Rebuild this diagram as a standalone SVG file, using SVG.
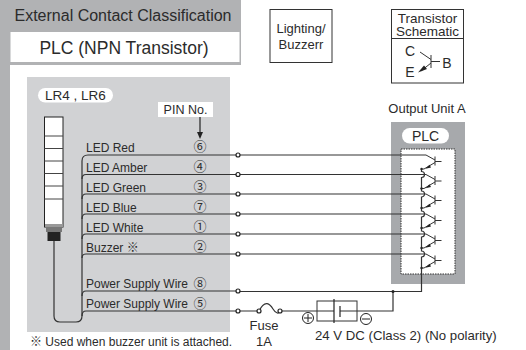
<svg xmlns="http://www.w3.org/2000/svg" width="526" height="350" viewBox="0 0 526 350">
<style>
text{font-family:"Liberation Sans","Noto Sans CJK JP",sans-serif;fill:#2b2b2b}
.l{font-size:12px}
.n{font-size:13px;text-anchor:middle}
.m{text-anchor:middle}
.w{fill:none;stroke:#333;stroke-width:1.2}
.o{fill:#fff;stroke:#222;stroke-width:1.2}
.b{fill:none;stroke:#333;stroke-width:1}
.d{fill:#222}
</style>
<defs>
<g id="tr">
<path class="b" d="M-2 -6.500L7 -1.500M7 -5V4M7 0H13.500M7 1L-4 7.500H-6.500"/>
<path class="d" d="M-2.500 7.200L1.500 3.200L3 6Z"/>
<circle class="d" cx="-6.500" cy="7.500" r="1.200"/>
</g>
</defs>
<g id="header">
<rect x="0" y="0" width="241" height="65" fill="#b1b2b4"/>
<rect x="0" y="0" width="10" height="350" fill="#b1b2b4"/>
<rect x="10.500" y="32" width="229" height="30" fill="#fff"/>
<text x="123" y="20.500" class="m" font-size="16">External Contact Classification</text>
<text x="124" y="53.500" class="m" font-size="17.500">PLC (NPN Transistor)</text>
</g>
<g id="panel-lr">
<rect x="27" y="77" width="203" height="255" fill="#d1d2d4"/>
<rect x="38" y="88" width="75" height="14.500" rx="7.200" fill="#fff"/>
<text x="75.500" y="100" class="m" font-size="13.500">LR4 , LR6</text>
<rect x="158" y="102" width="55" height="15" fill="#fff"/>
<text x="185.500" y="113.500" class="m" font-size="12.500">PIN No.</text>
<path d="M200 117V134" stroke="#222" stroke-width="1.200"/>
<path class="d" d="M197 132H203L200 139Z"/>
</g>
<g id="lamp">
<rect x="44.500" y="117" width="18.500" height="110" fill="#fff" stroke="#222" stroke-width="1"/>
<path d="M44.500 136H63M44.500 148.500H63M44.500 161H63M44.500 173.500H63M44.500 186H63M44.500 199H63" stroke="#444" stroke-width="1"/>
<rect x="45" y="224" width="18" height="3" fill="#999"/>
<rect x="46" y="227" width="16" height="5" fill="#777"/>
<rect x="47.500" y="232" width="13" height="9" fill="#222"/>
</g>
<g id="panel-plc">
<rect x="391" y="122" width="74" height="162" fill="#a7a9ac"/>
<rect x="402" y="128" width="47" height="15.500" rx="7.700" fill="#fff"/>
<text x="425.500" y="141" class="m" font-size="14">PLC</text>
<rect x="401" y="149" width="54" height="125" fill="#fff" stroke="#333" stroke-width="1" stroke-dasharray="1.500 1"/>
<text x="427" y="113" class="m" font-size="13">Output Unit A</text>
</g>
<g id="connectors">
<path class="w" d="M238 155H88Q82 155 82 161V316Q82 322 76 322H60Q54 322 54 316V241"/>
<path class="w" d="M238 174.500H86Q82 174.500 82 179"/>
<path class="w" d="M238 194H86Q82 194 82 199"/>
<path class="w" d="M238 214H86Q82 214 82 219"/>
<path class="w" d="M238 234H86Q82 234 82 239"/>
<path class="w" d="M238 254H86Q82 254 82 258"/>
<path class="w" d="M238 291H86Q82 291 82 296"/>
<path class="w" d="M238 311H86Q82 311 82 316"/>
<path class="w" d="M238 155H426M238 174.500H426M238 194H426M238 214H426M238 234H426M238 254H426"/>
<path class="w" d="M238 291.500H421.500V257A3 3 0 0 0 421.500 251V237A3 3 0 0 0 421.500 231V217A3 3 0 0 0 421.500 211V197A3 3 0 0 0 421.500 191V177.500A3 3 0 0 0 421.500 171.500V169M393 291.500V311H340M334 311H280M238 311H259"/>
<path class="w" d="M259 311C265 299 270 304 273 309C276 314 279 314 280 311"/>
<circle class="o" cx="238" cy="155" r="2"/>
<circle class="o" cx="238" cy="174.500" r="2"/>
<circle class="o" cx="238" cy="194" r="2"/>
<circle class="o" cx="238" cy="214" r="2"/>
<circle class="o" cx="238" cy="234" r="2"/>
<circle class="o" cx="238" cy="254" r="2"/>
<circle class="o" cx="238" cy="291" r="2"/>
<circle class="o" cx="238" cy="311" r="2"/>
<circle class="o" cx="259" cy="311" r="2"/>
<circle class="o" cx="280" cy="311" r="2"/>
<circle class="d" cx="393" cy="291.500" r="1.500"/>
</g>
<g id="labels">
<text x="86" y="152" class="l">LED Red</text><text x="200" y="151" class="n">⑥</text>
<text x="86" y="172" class="l">LED Amber</text><text x="200" y="171" class="n">④</text>
<text x="86" y="192" class="l">LED Green</text><text x="200" y="191" class="n">③</text>
<text x="86" y="212" class="l">LED Blue</text><text x="200" y="211" class="n">⑦</text>
<text x="86" y="232" class="l">LED White</text><text x="200" y="231" class="n">①</text>
<text x="86" y="252" class="l">Buzzer ※</text><text x="200" y="251" class="n">②</text>
<text x="86" y="288" class="l">Power Supply Wire</text><text x="200" y="288" class="n">⑧</text>
<text x="86" y="308" class="l">Power Supply Wire</text><text x="200" y="308" class="n">⑤</text>
<text x="30" y="346" font-size="12">※ Used when buzzer unit is attached.</text>
</g>
<g id="transistors">
<use href="#tr" x="428" y="161.500"/>
<use href="#tr" x="428" y="181"/>
<use href="#tr" x="428" y="200.500"/>
<use href="#tr" x="428" y="220.500"/>
<use href="#tr" x="428" y="240.500"/>
<use href="#tr" x="428" y="260.500"/>
</g>
<g id="fuse">
<text x="264" y="330" class="m" font-size="13">Fuse</text>
<text x="264" y="346" class="m" font-size="13">1A</text>
</g>
<g id="battery">
<rect x="317" y="301" width="40" height="20" fill="none" stroke="#333" stroke-width="1"/>
<path d="M334 299V323" stroke="#222" stroke-width="1.200"/>
<path d="M340 306V317" stroke="#222" stroke-width="1.200"/>
<circle cx="308" cy="318" r="5.500" fill="#fff" stroke="#222"/>
<path d="M304 318H312M308 314V322" stroke="#222"/>
<circle cx="366" cy="319" r="5.500" fill="#fff" stroke="#222"/>
<path d="M362 319H370" stroke="#222"/>
<text x="315" y="340" font-size="13.200">24 V DC (Class 2) (No polarity)</text>
</g>
<g id="lighting">
<rect x="270" y="9.500" width="62" height="53" fill="#fff" stroke="#333"/>
<text x="301" y="32.500" class="m" font-size="13">Lighting/</text>
<text x="301" y="49" class="m" font-size="13">Buzzerr</text>
</g>
<g id="schematic">
<rect x="391.500" y="9.500" width="72" height="73.500" fill="#fff" stroke="#333"/>
<path d="M391.500 38.500H463.500" stroke="#333"/>
<text x="427.500" y="22.500" class="m" font-size="13.500">Transistor</text>
<text x="427.500" y="36" class="m" font-size="13.500">Schematic</text>
<text x="410" y="55.500" class="m" font-size="14">C</text>
<text x="410" y="77" class="m" font-size="14">E</text>
<text x="447" y="67.500" class="m" font-size="14">B</text>
<path class="b" d="M420 52L431 59.500M431 55V68M431 61.500H440M431 63L421 71"/>
<path class="d" d="M418 72.500L424 65.500L427 69Z"/>
</g>
</svg>
